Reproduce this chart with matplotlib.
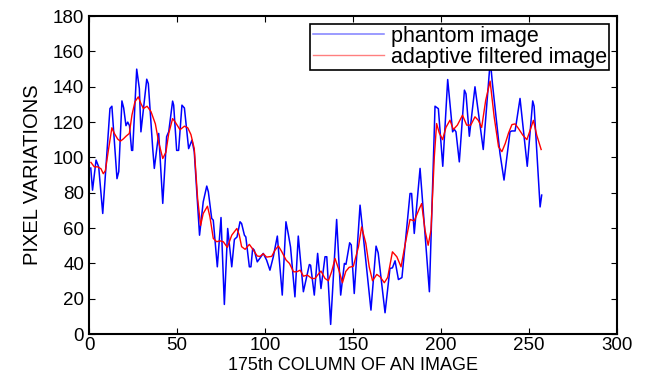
import matplotlib.pyplot as plt

plt.rcParams['font.family'] = ['Liberation Sans', 'DejaVu Sans']

# phantom image column profile (vertices)
phantom_x = [1, 2, 4, 5.5, 7.8, 11.9, 13, 15.9, 16.9, 18.7, 19.7, 21, 22, 23, 24.2, 24.8,
             27.1, 28.6, 29.5, 32.8, 33.7, 36.2, 37.1, 39.6, 41.9, 44.1, 45.3, 47.5, 48.1,
             49.8, 50.9, 52.8, 54.2, 56.6, 58.5, 59.8, 62.8, 64.9, 66.9, 67.8, 69.7, 70.6,
             72.9, 75, 76.9, 78.8, 81.1, 82.6, 84.1, 85.8, 86.7, 88.3, 89.1, 91.1, 92, 93,
             93.9, 95.6, 97, 99, 100.9, 102.8, 104.7, 107, 109.8, 111.9, 113.2, 114.5, 117,
             118.9, 121.8, 125.2, 125.9, 128, 129.9, 131.8, 134.1, 135.1, 137.3, 140.7, 143,
             145.1, 146, 148.1, 149, 150.7, 154, 160.2, 163.1, 164.3, 168.2, 171, 172.4,
             173.9, 175.8, 177.8, 182.4, 183.3, 184.8, 188.1, 193.4, 196.6, 198.5, 201,
             203.8, 206.6, 207.5, 208.5, 210.4, 213.3, 214.2, 216.1, 219.3, 224, 228, 229.2,
             233.5, 235.8, 239.2, 240.2, 242.1, 244.9, 249, 252.1, 252.9, 256.3, 257.2]
phantom_y = [94, 81.5, 98.5, 94.7, 68.3, 127.7, 129, 88, 92, 132, 128, 118, 120, 118, 104, 104,
             150, 139, 114.5, 144.3, 141.8, 105, 93.8, 113.6, 74, 111.8, 114.6, 131.9, 129.6,
             104, 104, 129.6, 128, 105, 109.8, 103.2, 56, 74.9, 83.8, 80.6, 65.5, 64.5,
             38.1, 66, 16.8, 59.8, 38.1, 53.6, 55, 63.6, 62.6, 56, 55, 38.1, 38.1, 48.5,
             47.5, 40.9, 42.8, 45.7, 41.9, 36.2, 43.7, 55.5, 22.1, 63.6, 56.8, 49.3, 21.1,
             55.5, 24, 39.4, 39, 22.1, 45.7, 25.8, 43.8, 43.8, 5.5, 64.9, 22.1,
             40, 39.5, 51.7, 50.5, 23, 73, 13.6, 49.8, 46, 12.1, 37.2, 37.5,
             41.5, 30.9, 32, 79.6, 79.6, 57, 93.8, 24, 129, 127.6, 95,
             144.1, 114.5, 116, 114.5, 97.5, 138.1, 136, 112, 140, 104.5, 155, 142,
             102.3, 87.2, 114.5, 115, 115, 133.4, 95, 132, 129, 72, 78.7]

# adaptive filtered profile
filtered_x = [1.1, 3, 4.9, 6.8, 8.1, 9.3, 11, 13, 14.4, 16.3, 17.8, 19.5, 21, 22.9, 24.4, 26.1,
              28, 29.5, 30.9, 33, 35.2, 37.7, 39.6, 41.9, 43.7, 45.3, 47.5, 49, 51.7, 54.2,
              56.1, 57.9, 59.8, 61.7, 63.4, 64.9, 67.3, 68.7, 70.6, 72.5, 74.4, 76.3, 78.6,
              81.1, 84, 85.4, 86.7, 88.7, 91.1, 93.4, 95.6, 97.2, 99, 100.9, 103.8, 105.7,
              107.6, 109.5, 112, 113.9, 116.2, 118.1, 120, 121.8, 124.1, 126.6, 128.4, 130.9,
              131.8, 134.1, 136, 137.9, 139.8, 141.7, 144, 145.9, 147.8, 150.2, 153.1, 154.9,
              157.3, 159.2, 161.1, 163.5, 165.4, 167.8, 169.7, 172.4, 174.9, 177.3, 179.7,
              182.4, 184.8, 187.5, 189, 190.9, 192.7, 194.3, 196.2, 197.5, 199, 200.9, 202.8,
              205.1, 207, 209.3, 212.2, 214.6, 216.9, 219.3, 221.2, 223.1, 225.4, 227.9,
              230.2, 232.7, 234.6, 236.5, 238.4, 240.3, 242.1, 244, 246.5, 248.8, 250.6,
              252.5, 254.4, 256.9]
filtered_y = [97.2, 94.7, 94.7, 93.6, 90.8, 92.5, 104, 116.8, 113.6, 110.4, 109.2, 110.5, 112,
              113.6, 124, 131.5, 134.3, 130.5, 127.7, 129, 126, 119, 108.6, 99.4, 103, 113.6,
              122, 120, 115.7, 117.7, 116.8, 113, 105, 76.8, 61.5, 68.3, 72.4, 66.4, 54.2,
              52.3, 52.8, 52.3, 49.1, 56, 59.8, 56, 49.5, 48, 50.8, 47.6, 44.2, 44, 45.5,
              43.6, 44, 47.6, 49.9, 46.7, 41.9, 40, 35.3, 35.3, 36.2, 32.8, 33.4, 31.5, 31.5,
              34.7, 35.7, 31.5, 30.2, 35.5, 42.8, 37.2, 29.1, 35.5, 37.8, 38.4, 49.4, 60.7,
              51.3, 38.1, 30.2, 33.8, 32.4, 29.1, 32.1, 46.6, 43.8, 38.1, 51.3, 64.9, 64.1,
              70.6, 73.9, 58.8, 50.3, 58.8, 100.3, 119.2, 113.9, 110.1, 117, 121.1, 115.8,
              118.3, 123.9, 118.3, 118.3, 123, 121, 117, 132.4, 143.2, 123, 106, 103.3,
              107.9, 113.9, 118.6, 119, 116.4, 112.6, 110.1, 115.3, 121, 112.6, 104.5]

fig = plt.figure(figsize=(6.45, 3.75), dpi=100)
ax = fig.add_axes([0.138, 0.109, 0.8186, 0.848])

ax.plot(phantom_x, phantom_y, color='blue', lw=1.1, label='phantom image')
ax.plot(filtered_x, filtered_y, color='red', lw=1.0, label='adaptive filtered image')

ax.set_xlim(0, 300)
ax.set_ylim(0, 180)
ax.set_xticks(range(0, 301, 50))
ax.set_yticks(range(0, 181, 20))
ax.tick_params(direction='in', top=True, right=True, labelsize=13.5, length=4, width=0.8)
ax.tick_params(axis='x', pad=2)
for s in ax.spines.values():
    s.set_linewidth(1.5)

ax.set_xlabel('175th COLUMN OF AN IMAGE', fontsize=13, labelpad=2)
ax.set_ylabel('PIXEL VARIATIONS', fontsize=14.5, labelpad=8)

leg = ax.legend(loc='upper right', fontsize=15.5, fancybox=False, framealpha=1,
                edgecolor='black', handlelength=3.3, handletextpad=0.35, borderpad=0.1,
                labelspacing=0.0, borderaxespad=0.35)
leg.get_frame().set_linewidth(1.2)
for line in leg.get_lines():
    line.set_alpha(0.5)

fig.savefig('out.png', dpi=100)
